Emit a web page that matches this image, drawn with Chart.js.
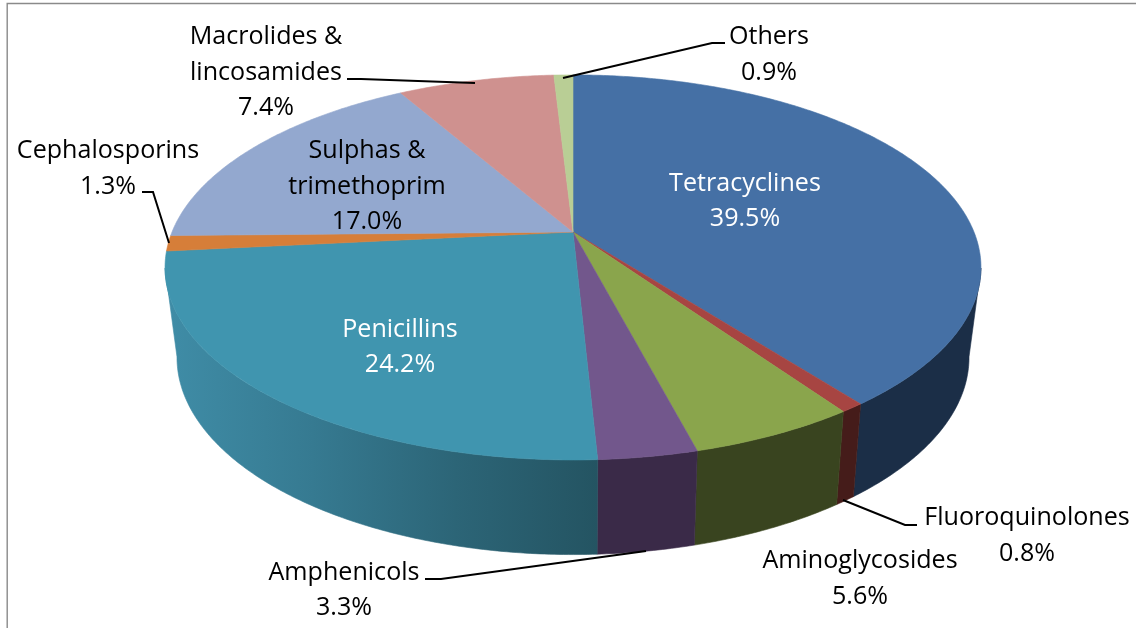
<!DOCTYPE html>
<html>
<head>
<meta charset="utf-8">
<style>html,body{margin:0;padding:0;background:#fff}canvas{display:block}</style>
<script src="https://cdn.jsdelivr.net/npm/chart.js@4/dist/chart.umd.min.js"></script>
</head>
<body>
<canvas id="c" width="1136" height="628"></canvas>
<script>
const categories = ['Tetracyclines','Fluoroquinolones','Aminoglycosides','Amphenicols','Penicillins','Cephalosporins','Sulphas & trimethoprim','Macrolides & lincosamides','Others'];
const values = [39.5,0.8,5.6,3.3,24.2,1.3,17.0,7.4,0.9];
const topColors = ['#4570a5','#a74542','#8aa54c','#72578c','#4095af','#d67e39','#93a8cf','#cf918f','#b9ce95'];
const wallColors = ['#1b2e47','#451c1a','#39441f','#3a2a48','gradient','#8c5226','#5f6d87','#875f5d','#79865f'];
const penicillinWallStops = ['#3f8ca6','#367a91','#2c6577','#245462'];

// perspective projection of the pie's top and bottom discs
const cx = 573;
const topFace = {A:401, B:186, y0:232, k:-0.184};
const botFace = {A:388.8, B:190, y0:320, k:-0.19};
// only the part of the wall between the two silhouette angles can be seen
const silhouette = Math.acos(0.187);
const wallFrom = -Math.PI/2 + (Math.PI - silhouette);
const wallTo = -Math.PI/2 + (Math.PI + silhouette);
function project(face, angle){
  const th = angle + Math.PI/2, u = Math.sin(th), v = -Math.cos(th);
  const w = 1 + face.k*v;
  return [cx + face.A*u/w, face.y0 + face.B*v/w];
}
function arcPoints(face, a0, a1){
  const n = Math.max(2, Math.ceil(Math.abs(a1-a0)/0.01)), pts = [];
  for(let i=0;i<=n;i++) pts.push(project(face, a0+(a1-a0)*i/n));
  return pts;
}
function tracePts(ctx, pts, start){
  pts.forEach((p,i)=>{ if(i===0 && start) ctx.moveTo(p[0],p[1]); else ctx.lineTo(p[0],p[1]); });
}

const pie3d = {
  id:'pie3d',
  beforeDatasetDraw(chart, args){
    const ctx = chart.ctx, arcs = chart.getDatasetMeta(args.index).data;
    ctx.save();
    ctx.lineWidth = 0.6; ctx.lineJoin = 'round';
    arcs.forEach((arc,i)=>{
      const a0 = Math.max(arc.startAngle, wallFrom), a1 = Math.min(arc.endAngle, wallTo);
      if(a1 <= a0) return;
      const t = arcPoints(topFace, a0, a1);
      const b = arcPoints(botFace, a0, a1);
      let fill = wallColors[i];
      if(fill === 'gradient'){
        const g = ctx.createLinearGradient(170,0,598,0);
        penicillinWallStops.forEach((c,j)=>g.addColorStop(j/(penicillinWallStops.length-1),c));
        fill = g;
      }
      ctx.beginPath(); tracePts(ctx,t,true); tracePts(ctx,b.slice().reverse(),false); ctx.closePath();
      ctx.fillStyle = fill; ctx.strokeStyle = fill; ctx.fill(); ctx.stroke();
    });
    arcs.forEach((arc,i)=>{
      const t = arcPoints(topFace, arc.startAngle, arc.endAngle);
      ctx.beginPath(); ctx.moveTo(cx, topFace.y0); tracePts(ctx,t,false); ctx.closePath();
      ctx.fillStyle = topColors[i]; ctx.strokeStyle = topColors[i]; ctx.fill(); ctx.stroke();
    });
    ctx.restore();
    return false;
  },
  afterDraw(chart){
    const ctx = chart.ctx;
    ctx.save();
    // frame
    ctx.strokeStyle = '#8a8a8a'; ctx.lineWidth = 1.4;
    ctx.beginPath(); ctx.moveTo(1136,3.5); ctx.lineTo(7.2,3.5); ctx.lineTo(7.2,628); ctx.stroke();
    // leader lines
    ctx.strokeStyle = '#000'; ctx.lineWidth = 2;
    [[[347,79],[361,79],[475,83]],
     [[725,43],[712,43],[563,78]],
     [[142,192],[153,192],[169,243]],
     [[917,525],[905,525],[843,500]],
     [[425,579],[441,579],[646,551]]].forEach(l=>{
      ctx.beginPath(); l.forEach((p,i)=>i?ctx.lineTo(p[0],p[1]):ctx.moveTo(p[0],p[1])); ctx.stroke();
    });
    // labels
    ctx.font = '26px "Open Sans"'; ctx.textAlign='center'; ctx.textBaseline='middle';
    const pct = i => values[i].toFixed(1)+'%';
    const place = [
      [0,745,[182,217],'#fff',['Tetracyclines']],
      [1,1027,[516,552],'#000',['Fluoroquinolones']],
      [2,860,[559,595],'#000',['Aminoglycosides']],
      [3,344,[571,606],'#000',['Amphenicols']],
      [4,400,[328,363],'#fff',['Penicillins']],
      [5,108,[149,185],'#000',['Cephalosporins']],
      [6,367,[149,185,220],'#000',['Sulphas &','trimethoprim']],
      [7,266,[35,71,106],'#000',['Macrolides &','lincosamides']],
      [8,769,[35,71],'#000',['Others']]
    ];
    place.forEach(([i,x,ys,col,lines])=>{
      ctx.fillStyle = col;
      lines.concat(pct(i)).forEach((s,j)=>{
        ctx.save(); ctx.translate(x,ys[j]+2); ctx.scale(0.965,1); ctx.fillText(s,0,0); ctx.restore();
      });
    });
    ctx.restore();
  }
};

new Chart(document.getElementById('c'),{
  type:'pie',
  data:{labels:categories,datasets:[{data:values,backgroundColor:topColors,borderWidth:0}]},
  options:{responsive:false,animation:false,events:[],
    plugins:{legend:{display:false},tooltip:{enabled:false}}},
  plugins:[pie3d]
});
</script>
</body>
</html>
